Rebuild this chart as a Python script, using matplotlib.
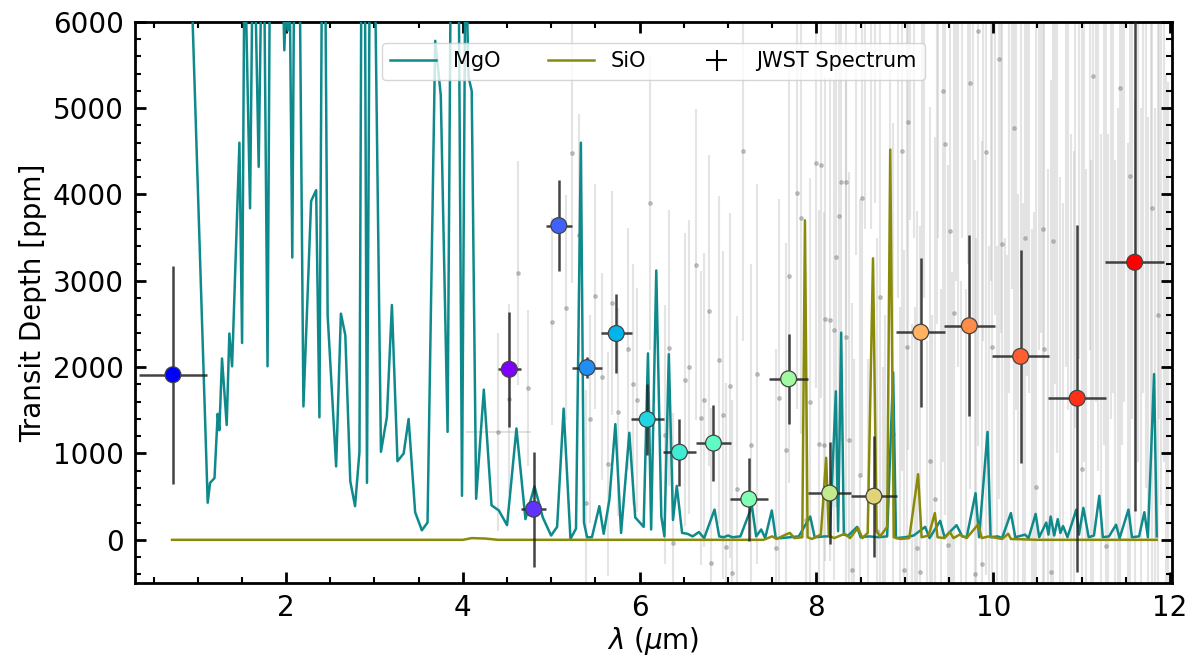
import numpy as np
import matplotlib
matplotlib.use('Agg')
import matplotlib.pyplot as plt
from matplotlib.ticker import MultipleLocator

# MgO model (wavelength um, transit depth ppm)
mgoWave = [0.71, 1.113, 1.14, 1.19, 1.226, 1.245, 1.275, 1.328, 1.358, 1.389, 1.472, 1.502,
           1.53, 1.592, 1.63, 1.69, 1.74, 1.79, 1.83, 1.86, 1.93, 1.98, 2.0, 2.02, 2.04, 2.07,
           2.1, 2.15, 2.196, 2.283, 2.34, 2.377, 2.41, 2.44, 2.47, 2.566, 2.62, 2.67, 2.726,
           2.78, 2.83, 2.857, 2.89, 2.915, 2.95, 3.0, 3.073, 3.14, 3.197, 3.26, 3.33, 3.386,
           3.46, 3.536, 3.60, 3.687, 3.75, 3.827, 3.865, 3.92, 3.95, 3.99, 4.03, 4.064, 4.10,
           4.15, 4.237, 4.324, 4.407, 4.5, 4.606, 4.708, 4.81, 4.904, 4.998, 5.066, 5.14, 5.217,
           5.28, 5.335, 5.37, 5.405, 5.46, 5.544, 5.593, 5.657, 5.725, 5.79, 5.883, 5.95, 6.045,
           6.094, 6.13, 6.188, 6.245, 6.28, 6.33, 6.377, 6.42, 6.48, 6.54, 6.60, 6.67, 6.73,
           6.847, 6.9, 6.95, 7.0, 7.05, 7.14, 7.27, 7.318, 7.375, 7.42, 7.495, 7.54, 7.6, 7.7,
           7.8, 7.93, 7.98, 8.1, 8.15, 8.22, 8.245, 8.28, 8.31, 8.36, 8.46, 8.5, 8.6, 8.7, 8.8,
           8.868, 8.9, 9.0, 9.1, 9.23, 9.28, 9.4, 9.45, 9.585, 9.65, 9.7, 9.8, 9.84, 9.936, 9.97,
           10.05, 10.1, 10.2, 10.25, 10.36, 10.4, 10.48, 10.52, 10.60, 10.625, 10.65, 10.69,
           10.73, 10.76, 10.79, 10.84, 10.94, 10.97, 11.02, 11.08, 11.14, 11.20, 11.24, 11.31,
           11.39, 11.43, 11.53, 11.57, 11.65, 11.71, 11.75, 11.82, 11.85]
mgoDepth = [13600, 430, 660, 715, 1460, 1270, 2100, 1330, 2390, 2010, 4600, 2280,
            7000, 3840, 7500, 4320, 8000, 2010, 9000, 7000, 8000, 5670, 6300, 5900, 6500, 3270,
            8000, 7000, 1545, 3924, 4050, 1419, 7500, 7000, 2600, 850, 2620, 2370, 680,
            390, 1020, 8000, 7000, 660, 7500, 7000, 1020, 1420, 2720, 910, 1000, 1400,
            320, 110, 200, 5780, 5150, 1250, 7000, 8000, 7000, 510, 7000, 5360, 5200,
            475, 1740, 400, 340, 170, 1290, 240, 620, 260, 50, 150, 1520, 10,
            130, 4600, 200, 30, 30, 390, 70, 460, 1340, 80, 1240, 260, 150,
            2160, 120, 3120, 270, 40, 2150, 230, 625, 80, 70, 40, 90, 20,
            350, 40, 30, 50, 30, 40, 390, 40, 120, 20, 340, 20, 20, 30,
            40, 270, 30, 40, 40, 1720, 100, 2400, 60, 50, 150, 30, 40, 30, 40,
            1940, 20, 30, 50, 150, 20, 220, 30, 170, 40, 30, 540, 30, 1250, 30,
            40, 20, 310, 30, 60, 20, 300, 30, 200, 60, 270, 50,
            240, 80, 160, 30, 350, 60, 370, 30, 50, 510, 30, 40,
            175, 20, 350, 30, 40, 320, 30, 1920, 40]

# SiO model
sioWave = [0.71, 4.0, 4.1, 4.25, 4.4, 7.4, 7.5, 7.55, 7.65, 7.7, 7.75, 7.84, 7.87, 7.9, 7.95,
           8.05, 8.11, 8.14, 8.2, 8.32, 8.38, 8.47, 8.52, 8.58, 8.64, 8.68, 8.72, 8.80, 8.835,
           8.875, 8.95, 9.05, 9.15, 9.19, 9.27, 9.34, 9.37, 9.45, 9.51, 9.55, 9.62, 9.7, 9.83,
           9.87, 9.95, 10.1, 10.17, 10.2, 10.5, 11.85]
sioDepth = [0, 0, 20, 15, 0, 0, 40, 10, 60, 80, 20, 30, 3700, 30, 10,
            60, 950, 50, 20, 70, 20, 140, 20, 80, 3260, 100, 40, 150, 4520,
            30, 10, 20, 760, 30, 50, 310, 30, 20, 90, 20, 60, 20, 180,
            20, 40, 10, 70, 10, 0, 0]

# unbinned JWST spectrum (grey), points with the centre inside the plot
rawWave = [4.40, 4.52, 4.62, 4.74, 5.01, 5.17, 5.24, 5.31, 5.39, 5.44, 5.50, 5.57, 5.64, 5.69,
           5.75, 5.87, 5.92, 5.97, 6.12, 6.29, 6.33, 6.38, 6.51, 6.56, 6.64, 6.69, 6.73, 6.78,
           6.81, 6.90, 6.94, 6.98, 7.02, 7.05, 7.10, 7.17, 7.26, 7.33, 7.54, 7.58, 7.66, 7.69,
           7.78, 7.83, 7.88, 7.93, 7.99, 8.03, 8.05, 8.08, 8.10, 8.15, 8.20, 8.22, 8.25, 8.28,
           8.33, 8.34, 8.37, 8.40, 8.45, 8.49, 8.52, 8.58, 8.62, 8.69, 8.72, 8.78, 8.87, 8.92,
           8.97, 8.99, 9.02, 9.04, 9.08, 9.10, 9.14, 9.17, 9.22, 9.28, 9.31, 9.34, 9.38, 9.43,
           9.46, 9.49, 9.51, 9.53, 9.56, 9.60, 9.65, 9.69, 9.74, 9.77, 9.79, 9.83, 9.87, 9.92,
           9.95, 9.99, 10.02, 10.07, 10.10, 10.13, 10.18, 10.24, 10.28, 10.31, 10.36, 10.40,
           10.44, 10.48, 10.52, 10.56, 10.58, 10.65, 10.68, 10.72, 10.76, 10.82, 10.88, 10.93,
           11.00, 11.05, 11.09, 11.13, 11.18, 11.22, 11.28, 11.33, 11.38, 11.43, 11.48, 11.55,
           11.60, 11.64, 11.70, 11.75, 11.80, 11.86, 11.90, 11.95]
rawDepth = [1250, 1630, 3090, 1760, 2525, 2690, 4480, 3535, 430, 1400, 2820, 1890, 880, 2745,
            1480, 2210, 1800, 1620, 3900, 1215, 2225, -35, 1855, 2005, 3185, 1410, 1620, 2655,
            -270, 2085, 1450, -80, 1785, -380, 590, 4500, 1100, 1920, -95, 1645, 1040, 3060,
            4020, 3730, 230, 1595, 4360, 1115, 4345, 1100, 2560, 2550, 2430, 3275, 3750, 4150,
            4140, 2350, 1160, -355, 6800, 750, 3965, -1200, 7200, 100, 2810, -900, 1225, 6500,
            4500, -345, 2230, 4835, -1400, 7400, -90, -370, 6900, 915, -1600, 470, 7800, 5200,
            4590, -55, 3575, -1300, 2630, 6600, 8100, -1800, 5290, 7300, -400, 5890, -275, 4490,
            -1500, 2230, 7600, 5570, 3430, -1700, 6900, 4770, -1300, 8200, 3500, 7100,
            -1900, 610, 7700, 3600, 2205, -370, 3460, 6800, -1600, 7900, -1200, 7300,
            815, -1800, 8300, 5370, 7000, -1500, -70, 7700, -1900, 5230, 8000, 4210,
            -1400, 7400, 8200, -1700, 3840, 2600, 7100, -1300]
rawErr = [1150, 1100, 1300, 900, 1200, 1300, 1500, 1400, 1300, 1200, 1300, 1200, 1300, 1300,
          1200, 1400, 1400, 1300, 1700, 1500, 1600, 1500, 1700, 1700, 1800, 1700, 1700, 1800,
          1800, 1900, 1900, 1900, 2000, 2000, 2000, 2200, 2100, 2200, 2300, 2300, 2400, 2400,
          2500, 2500, 2500, 2600, 2600, 2700, 2700, 2700, 2800, 2800, 2900, 2900, 3000, 3000,
          3000, 3000, 3100, 3100, 3500, 3200, 3200, 3300, 3600, 3400, 3400, 3500, 3600, 3700,
          3700, 3700, 3800, 3800, 3900, 3900, 3900, 4000, 4100, 4100, 4200, 4200, 4300, 4300,
          4300, 4400, 4400, 4400, 4500, 4600, 4600, 4700, 4700, 4800, 4800, 4800, 4900, 4900,
          4900, 5000, 5000, 5100, 5100, 5200, 5200, 5300, 5300, 5300, 5400, 5400,
          5500, 5500, 5500, 5600, 5600, 5700, 5700, 5800, 5800, 5900, 5900, 6000,
          6000, 6100, 6100, 6100, 6200, 6200, 6200, 6300, 6300, 6300, 6400, 6400,
          6500, 6500, 6500, 6600, 6600, 6600, 6700, 6700]

# more noisy MIRI channels, centres off the plot (only the bars show)
noisyWave = [8.42, 8.55, 8.66, 8.75, 8.83, 8.95, 9.06, 9.12, 9.19, 9.25, 9.36, 9.41, 9.58,
             9.63, 9.72, 9.81, 9.89, 9.97, 10.04, 10.09, 10.16, 10.21, 10.26, 10.34, 10.38,
             10.46, 10.54, 10.62, 10.70, 10.79, 10.85, 10.91, 10.97, 11.03, 11.11, 11.16,
             11.25, 11.30, 11.36, 11.41, 11.46, 11.52, 11.57, 11.67, 11.73, 11.78, 11.83,
             11.88, 11.93, 11.98]
noisyDepth = [-1100, 6900, 7300, -1500, 7100, -1000, 7600, -1200, 7000, -1800, 6800, -1400,
              7500, -1600, 7900, -1300, 7200, 8000, -1600, 7500, -1900, 8100, 6800, -1500,
              7300, -1700, 7900, -1300, 7600, -1900, 7400, -1500, 8100, 7000, -1700, 7800,
              7300, -1600, 8000, -1400, 7500, -1800, 7900, -1500, 7200, 7700, -1600, 8100,
              7600, -1400]
noisyErr = [3200, 3300, 3400, 3500, 3600, 3700, 3900, 3900, 4000, 4100, 4300, 4300, 4500,
            4600, 4700, 4800, 4900, 5000, 5000, 5100, 5200, 5200, 5300, 5400, 5400, 5500,
            5500, 5600, 5800, 5800, 5900, 6000, 6000, 6100, 6100, 6200, 6200, 6300, 6300,
            6400, 6400, 6400, 6500, 6500, 6600, 6600, 6600, 6700, 6700, 6700]

# binned JWST spectrum
binWave = [0.72, 4.525, 4.80, 5.085, 5.405, 5.735, 6.085, 6.45, 6.835, 7.235, 7.685, 8.15,
           8.65, 9.18, 9.73, 10.31, 10.95, 11.60]
binWaveErr = [0.38, 0.13, 0.145, 0.15, 0.165, 0.175, 0.185, 0.19, 0.20, 0.215, 0.225, 0.245,
              0.26, 0.275, 0.29, 0.32, 0.33, 0.33]
binDepth = [1912, 1975, 355, 3640, 1995, 2390, 1395, 1015, 1120, 472, 1865, 542,
            505, 2405, 2480, 2125, 1640, 3215]
binDepthErr = [1260, 665, 665, 530, 120, 460, 415, 390, 440, 480, 520, 590,
               700, 865, 1046, 1230, 2010, 2885]

# colours: first point blue, the rest along the rainbow map
binColors = ['blue'] + [plt.cm.rainbow(i / 16) for i in range(17)]

fig = plt.figure(figsize=(11.89, 6.61), dpi=100)
ax = fig.add_axes([0.1135, 0.118, 0.872, 0.849])

# raw spectrum in the background
ax.errorbar(rawWave, rawDepth, yerr=rawErr, fmt='o', ms=2.5, color='grey', alpha=0.4,
            ecolor='#bdbdbd', elinewidth=1.5, capsize=0, zorder=1)
ax.errorbar(noisyWave, noisyDepth, yerr=noisyErr, fmt='none', ecolor='#bdbdbd', alpha=0.4,
            elinewidth=1.5, capsize=0, zorder=1)
# the one wide NIRSpec point
ax.errorbar([4.40], [1250], xerr=[0.37], fmt='none', ecolor='#bdbdbd', alpha=0.5,
            elinewidth=1.3, zorder=1)

mgoLine, = ax.plot(mgoWave, mgoDepth, color='#0f8a8c', lw=1.8, label='MgO', zorder=3)
sioLine, = ax.plot(sioWave, sioDepth, color='#8a8a0a', lw=1.8, label='SiO', zorder=4)

ax.errorbar(binWave, binDepth, xerr=binWaveErr, yerr=binDepthErr, fmt='none',
            ecolor='#222222', alpha=0.85, elinewidth=1.8, capsize=0, zorder=5)
ax.scatter(binWave, binDepth, s=130, c=binColors, edgecolors='#444444', linewidths=0.9,
           zorder=6)

jwstHandle = ax.errorbar([-10], [-10], xerr=[1], yerr=[1], fmt='none', ecolor='black',
                         elinewidth=1.5, label='JWST Spectrum')

ax.set_xlim(0.29, 12.02)
ax.set_ylim(-500, 6000)
ax.xaxis.set_major_locator(MultipleLocator(2))
ax.xaxis.set_minor_locator(MultipleLocator(0.5))
ax.yaxis.set_major_locator(MultipleLocator(1000))
ax.yaxis.set_minor_locator(MultipleLocator(200))
ax.tick_params(which='both', direction='in', top=True, right=True, labelsize=20, pad=8)
ax.tick_params(which='major', length=8, width=2)
ax.tick_params(which='minor', length=4, width=1.5)
for spine in ax.spines.values():
    spine.set_linewidth(2)

ax.set_xlabel(r'$\lambda$ ($\mu$m)', fontsize=20, labelpad=2)
ax.set_ylabel('Transit Depth [ppm]', fontsize=20)

ax.legend(handles=[mgoLine, sioLine, jwstHandle], loc='upper center', ncol=3, fontsize=15,
          bbox_to_anchor=(0.5, 0.962), borderaxespad=0, columnspacing=2.3, handlelength=2.2)

fig.savefig('out.png', dpi=100)
